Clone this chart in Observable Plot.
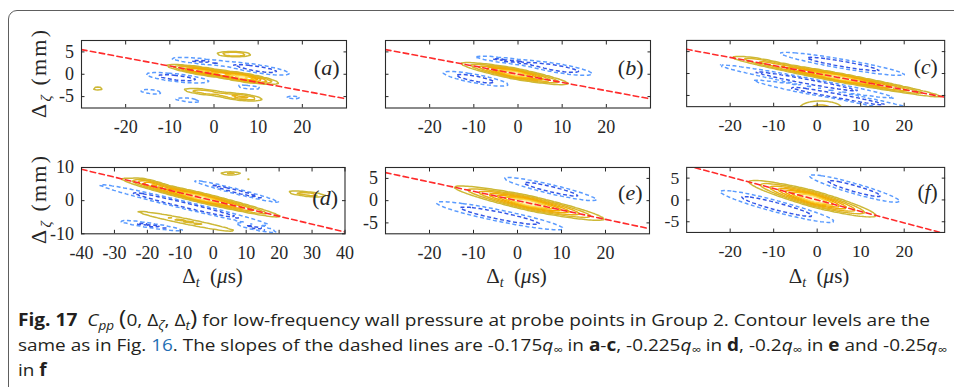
<!DOCTYPE html>
<html><head><meta charset="utf-8">
<script src="https://cdn.jsdelivr.net/npm/d3@7"></script>
<script src="https://cdn.jsdelivr.net/npm/@observablehq/plot@0.6"></script>
<style>
body{margin:0;background:#fff;}
#root{position:relative;width:954px;height:387px;overflow:hidden;background:#fff;}
#box{position:absolute;left:8px;top:10px;width:1100px;height:600px;border:1px solid #5e5e5e;border-radius:9px;}
.panel{position:absolute;}
#over{position:absolute;left:0;top:0;}
#over text{white-space:pre;}
</style></head>
<body><div id="root"><div id="box"></div>
<svg id="over" width="954" height="387"></svg>
</div>
<script>
// ---------- data ----------
const panelIds = ["a", "b", "c", "d", "e", "f"];
const slopes = [-0.175, -0.175, -0.175, -0.225, -0.2, -0.25]; // dashed-line slopes in units of q∞
const qInf = 1.05; // q∞ (mm/μs)
const xDomains = [[-30, 30], [-30, 30], [-30, 29.3], [-40, 40], [-30, 30], [-30, 29.3]];
const yDomains = [[-7.55, 7.55], [-7.55, 7.55], [-7.55, 7.55], [-10, 10], [-7.45, 7.45], [-7.45, 7.45]];
const xTicksTop = [-20, -10, 0, 10, 20];
const xTicksD = [-40, -30, -20, -10, 0, 10, 20, 30, 40];
const yTicksSmall = [-5, 0, 5];
const yTicksD = [-10, 0, 10];
const posLevels = [0.1, 0.18, 0.28, 0.4, 0.52, 0.64, 0.76, 0.9];
const negLevels = [-0.06, -0.15];
// correlation lobes: [Δt centre, Δζ centre, amplitude, half-length (μs), half-width (mm), tilt, shape]
const lobesA = [
  [-3, 0.75, 0.75, 5, 0.6, -0.153, 1.6], [6.5, -0.7, 0.9, 5, 0.65, -0.153, 1.6],
  [4.5, 4.5, 0.33, 3.6, 0.5, -0.02, 2],
  [-2.5, -3.9, 0.25, 4.5, 0.6, -0.1, 2], [6, -5.1, 0.33, 4.5, 0.65, -0.1, 2],
  [-26.3, -3.2, 0.15, 1.8, 0.5, 0, 2],
  [-3, 2.9, -0.18, 6.5, 0.55, -0.1, 2], [10, 1.2, -0.25, 6, 0.75, -0.15, 2],
  [-8.3, -0.8, -0.25, 6, 0.7, -0.11, 2],
  [8, -2.9, -0.14, 3, 0.4, -0.1, 2], [-14.3, -3.9, -0.15, 2.5, 0.45, -0.1, 2],
  [-6, -5.75, -0.15, 3, 0.4, -0.1, 2], [18, -5.2, -0.12, 2, 0.35, -0.1, 2]
];
const lobesB = [
  [-0.75, 0.14, 1.0, 7, 0.8, -0.184, 1.5],
  [-3, 3.1, -0.18, 6.5, 0.5, -0.12, 2], [9, 1.35, -0.26, 6.5, 0.8, -0.16, 2],
  [-9.6, -1.0, -0.25, 6.2, 0.8, -0.18, 2]
];
const lobesC = [
  [5.2, -0.96, 1.0, 13.6, 0.65, -0.184, 1.5],
  [-13, 2.9, 0.15, 5, 0.6, -0.184, 2],
  [0.8, -7.9, 0.21, 5.6, 1.9, 0, 2],
  [5.8, 2.2, -0.25, 12, 0.85, -0.17, 2],
  [-2.4, -1.8, -0.25, 17, 0.7, -0.184, 2], [4.5, -5.1, -0.25, 16, 0.7, -0.184, 2]
];
const lobesD = [
  [-3.7, 0.87, 1.0, 14, 1.0, -0.236, 1.5],
  [-19, 5.2, 0.3, 4, 0.9, -0.236, 2],
  [5.3, 8.2, 0.2, 3.6, 0.6, 0, 2], [10.7, 6.6, 0.13, 1.2, 0.45, 0, 2],
  [28.5, 2.0, 0.25, 6, 0.7, -0.1, 2],
  [-8, -6.3, 0.2, 18, 1.0, -0.2, 2],
  [7, 2.8, -0.25, 11, 0.6, -0.25, 2],
  [-8.75, -1.3, -0.28, 21, 0.9, -0.236, 2],
  [-19, -7.5, -0.2, 9, 0.6, -0.15, 2], [13, -8.2, -0.2, 5.5, 0.6, -0.2, 2]
];
const lobesE = [
  [2.65, -0.56, 1.0, 9.8, 1.1, -0.21, 1.5],
  [7.5, 2.6, -0.25, 8.8, 0.85, -0.23, 2],
  [-4, -3.4, -0.27, 11.8, 1.05, -0.2, 2]
];
const lobesF = [
  [-1.1, 0.29, 1.0, 8.4, 1.25, -0.2625, 1.5],
  [8.6, 2.6, -0.25, 8.75, 1.0, -0.28, 2],
  [-9.2, -1.5, -0.27, 10.7, 1.1, -0.26, 2]
];
const allLobes = [lobesA, lobesB, lobesC, lobesD, lobesE, lobesF];

// ---------- layout / style ----------
const posColors = ["#cdb836", "#dab628", "#e6b118", "#eeac08", "#f2aa00", "#f6bd10", "#fbd648", "#fff0a8"];
const negColors = ["#5a9bff", "#3355e6"];
const frames = [
  {left: 81, top: 40, w: 265, h: 67.5}, {left: 384.5, top: 40, w: 265, h: 67.5}, {left: 687, top: 40, w: 263, h: 67.5},
  {left: 81, top: 166.7, w: 263.5, h: 66.3}, {left: 384.5, top: 166.7, w: 264, h: 66.3}, {left: 687, top: 166.7, w: 263, h: 66.3}
];
const showYLabels = [true, false, false, true, true, true];
const labelDy = [19, 19, 19, 22, 17, 17];
const mL = 45, mR = 10, mT = 4, mB = 32;
const serif = "'Liberation Serif', 'Times New Roman', serif";

function fieldOf(lobes) {
  return (t, z) => {
    let s = 0;
    for (const [t0, z0, a, Lt, Lz, sl, p] of lobes) {
      const u = (t - t0) / Lt, v = (z - z0 - sl * (t - t0)) / Lz;
      const e = Math.pow(Math.abs(u), p) + v * v;
      if (e < 14) s += a * Math.exp(-e);
    }
    return s;
  };
}

const root = document.getElementById("root");
panelIds.forEach((id, i) => {
  const F = frames[i];
  const [x0, x1] = xDomains[i], [y0, y1] = yDomains[i];
  const f = fieldOf(allLobes[i]);
  const neg = (x, y) => -f(x, y);
  const ext = {x1: x0 - 2, x2: x1 + 2, y1: y0 - 1, y2: y1 + 1, clip: true, fill: "none"};
  const xt = i === 3 ? xTicksD : xTicksTop;
  const yt = i === 3 ? yTicksD : yTicksSmall;
  const s = slopes[i] * qInf;
  const marks = [];
  posLevels.forEach((lv, k) => marks.push(Plot.contour({...ext, value: f, thresholds: [lv], stroke: posColors[k], strokeWidth: 1.5})));
  negLevels.forEach((lv, k) => marks.push(Plot.contour({...ext, value: neg, thresholds: [-lv], stroke: negColors[k], strokeWidth: 1.5, strokeDasharray: "4,2.6"})));
  marks.push(Plot.line(xDomains[i], {x: d => d, y: d => s * d, stroke: "#ff2b2b", strokeWidth: 1.6, strokeDasharray: "5.5,3.5", clip: true}));
  marks.push(Plot.frame({stroke: "#2b2b2b", strokeWidth: 1.1}));
  marks.push(Plot.axisX(xt, {anchor: "bottom", tickSize: -3.5, tickPadding: 15.8, fontSize: 18, tickFormat: d => String(d)}));
  marks.push(Plot.axisX(xt, {anchor: "top", tickSize: -3.5, tickFormat: () => ""}));
  marks.push(Plot.axisY(yt, {anchor: "left", tickSize: -3.5, tickPadding: 11, fontSize: 18, tickFormat: showYLabels[i] ? (d => String(d)) : (() => "")}));
  marks.push(Plot.axisY(yt, {anchor: "right", tickSize: -3.5, tickFormat: () => ""}));
  marks.push(Plot.text([`(${id})`], {frameAnchor: "top-right", dx: -7, dy: labelDy[i], textAnchor: "end", fontSize: 22}));
  const svg = Plot.plot({
    width: F.w + mL + mR, height: F.h + mT + mB,
    marginLeft: mL, marginRight: mR, marginTop: mT, marginBottom: mB,
    x: {domain: xDomains[i]}, y: {domain: yDomains[i]},
    style: {fontFamily: serif, fontSize: "18px", color: "#262626", background: "transparent", overflow: "visible"},
    marks
  });
  svg.querySelectorAll("text").forEach(t => {
    if (t.textContent === `(${id})`) t.innerHTML = `(<tspan font-style="italic">${id}</tspan>)`;
  });
  const div = document.createElement("div");
  div.className = "panel";
  div.style.left = (F.left - mL) + "px";
  div.style.top = (F.top - mT) + "px";
  div.appendChild(svg);
  root.appendChild(div);
});

// ---------- axis titles and caption ----------
const over = document.getElementById("over");
const NS = "http://www.w3.org/2000/svg";
function rich(attrs, segs) {
  const t = document.createElementNS(NS, "text");
  for (const k in attrs) t.setAttribute(k, attrs[k]);
  let cur = 0;
  t.innerHTML = segs.map(([txt, st = {}]) => {
    const shift = st.sub || 0;
    const dy = shift - cur; cur = shift;
    return `<tspan${dy ? ` dy="${dy}"` : ""}${st.b ? ' font-weight="bold"' : ""}${st.i ? ' font-style="italic"' : ""}${st.fs ? ` font-size="${st.fs}"` : ""}${st.fill ? ` fill="${st.fill}"` : ""}>${txt}</tspan>`;
  }).join("");
  over.appendChild(t);
  return t;
}
const yLab = [["Δ"], ["ζ", {i: true, fs: 15, sub: 5}], [" (mm)"]];
const xLab = [["Δ"], ["t", {i: true, fs: 14, sub: 4.5}], ["  ("], ["μ", {i: true}], ["s)"]];
[[46, 74], [46, 200]].forEach(([x, y]) =>
  rich({transform: `translate(${x},${y}) rotate(-90)`, "text-anchor": "middle", "font-family": serif, "font-size": 22, fill: "#262626", textLength: 88, lengthAdjust: "spacing"}, yLab));
[212.5, 516.5, 819].forEach(x =>
  rich({x, y: 282.5, "text-anchor": "middle", "font-family": serif, "font-size": 21, fill: "#262626"}, xLab));

const capFont = "'Open Sans', 'Liberation Sans Narrow', 'DejaVu Sans Condensed', sans-serif";
const sub = {fs: 12, sub: 3.5};
const l1 = rich({x: 18, y: 326, "font-family": capFont, "font-size": 17, fill: "#231f20", textLength: 912, lengthAdjust: "spacingAndGlyphs"}, [
  ["Fig. 17", {b: true}], ["  "], ["C", {i: true}], ["pp", {i: true, ...sub}], [" "], ["(", {fs: 22}], ["0, Δ"], ["ζ", {i: true, ...sub}],
  [", Δ"], ["t", {i: true, ...sub}], [")", {fs: 22}], [" for low-frequency wall pressure at probe points in Group 2. Contour levels are the"]
]);
const l2 = rich({x: 18, y: 350.7, "font-family": capFont, "font-size": 17, fill: "#231f20"}, [
  ["same as in Fig. "], ["16", {fill: "#1f6fb5"}], [". The slopes of the dashed lines are -0.175"], ["q", {i: true}], ["∞", sub],
  [" in "], ["a", {b: true}], ["-"], ["c", {b: true}], [", -0.225"], ["q", {i: true}], ["∞", sub], [" in "], ["d", {b: true}],
  [", -0.2"], ["q", {i: true}], ["∞", sub], [" in "], ["e", {b: true}], [" and -0.25"], ["q", {i: true}], ["∞", sub]
]);
const l3 = rich({x: 18, y: 375.5, "font-family": capFont, "font-size": 17, fill: "#231f20"}, [["in "], ["f", {b: true}]]);
// condensed caption face: scale line 3 like line 2
const ratio = 929 / l2.getComputedTextLength();
l2.setAttribute("textLength", 929);
l2.setAttribute("lengthAdjust", "spacingAndGlyphs");
l3.setAttribute("textLength", l3.getComputedTextLength() * ratio);
l3.setAttribute("lengthAdjust", "spacingAndGlyphs");
</script>
</body></html>
